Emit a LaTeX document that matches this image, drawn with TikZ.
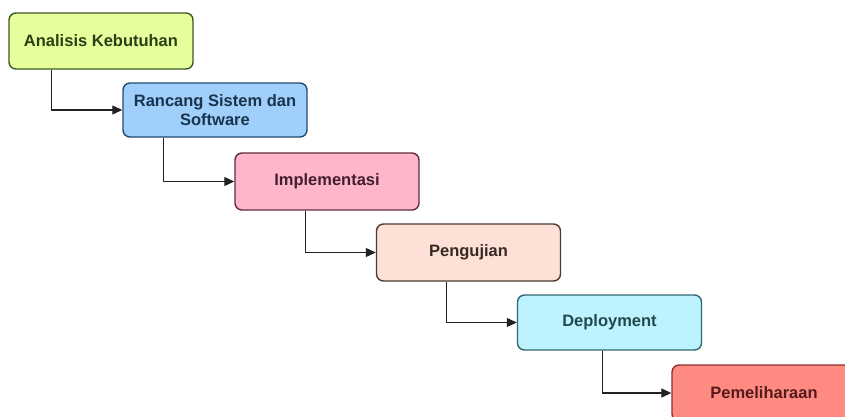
\documentclass[tikz,border=0pt]{standalone}
\usepackage{fontspec}
\setmainfont{Liberation Sans}
\usetikzlibrary{arrows.meta}
\definecolor{f1}{HTML}{E6FF9C}\definecolor{d1}{HTML}{3B5A1E}
\definecolor{f2}{HTML}{9FCFFA}\definecolor{d2}{HTML}{244A6E}
\definecolor{f3}{HTML}{FFB5CA}\definecolor{d3}{HTML}{5E2E40}
\definecolor{f4}{HTML}{FDE1D6}\definecolor{d4}{HTML}{4E3A33}
\definecolor{f5}{HTML}{BDF3FE}\definecolor{d5}{HTML}{2F6870}
\definecolor{f6}{HTML}{FF8A82}\definecolor{d6}{HTML}{8A2E2E}
\definecolor{lc}{HTML}{222222}
\tikzset{
  stagebox/.style={draw, rounded corners=7pt, line width=1.4pt, minimum width=184pt,
    minimum height=56pt, inner sep=0pt, align=center,
    font=\fontsize{16.5}{19.5}\selectfont\bfseries, text=black!85},
  conn/.style={draw=lc, line width=1.1pt, -{Triangle[length=10pt,width=9pt]}}
}
\begin{document}
\begin{tikzpicture}[x=1pt,y=-1pt]
\clip (0,0) rectangle (845,416);
\fill[white] (0,0) rectangle (845,416);
\node[stagebox, fill=f1, draw=d1, text=d1!70!black] (a) at (101,41) {Analisis Kebutuhan};
\node[stagebox, fill=f2, draw=d2, text=d2!70!black, minimum height=54pt] (b) at (215,110) {Rancang Sistem dan\\Software};
\node[stagebox, fill=f3, draw=d3, text=d3!70!black, minimum height=57pt] (c) at (327,181.5) {Implementasi};
\node[stagebox, fill=f4, draw=d4, text=d4!70!black, minimum height=57pt] (d) at (468.5,252.5) {Pengujian};
\node[stagebox, fill=f5, draw=d5, text=d5!70!black, minimum height=55pt] (e) at (609.5,322.5) {Deployment};
\node[stagebox, fill=f6, draw=d6, text=d6!60!black] (f) at (764,393) {Pemeliharaan};
\draw[conn] ([xshift=43pt]a.south west) |- (b.west);
\draw[conn] ([xshift=41pt]b.south west) |- (c.west);
\draw[conn] ([xshift=71pt]c.south west) |- (d.west);
\draw[conn] ([xshift=71pt]d.south west) |- (e.west);
\draw[conn] ([xshift=86pt]e.south west) |- (f.west);
\end{tikzpicture}
\end{document}
